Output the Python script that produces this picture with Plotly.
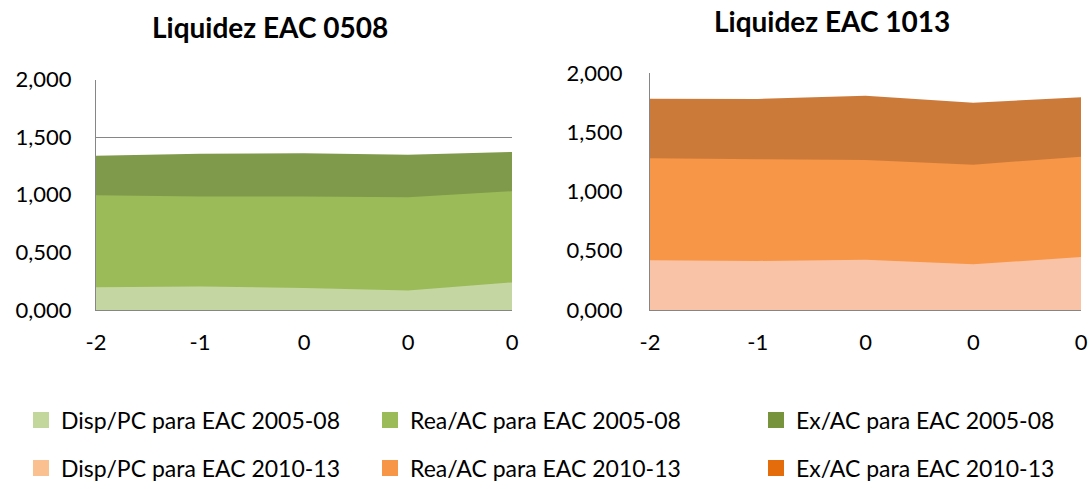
import plotly.graph_objects as go

W, H = 1091, 489

x_labels = ["-2", "-1", "0", "0", "0"]

# EAC 2005-08 (left chart)
disp_0508 = [0.198, 0.204, 0.190, 0.169, 0.239]
rea_0508 = [0.996, 0.984, 0.984, 0.978, 1.031]
ex_0508 = [1.339, 1.356, 1.360, 1.348, 1.371]

# EAC 2010-13 (right chart)
disp_1013 = [0.419, 0.414, 0.425, 0.386, 0.447]
rea_1013 = [1.280, 1.272, 1.266, 1.226, 1.294]
ex_1013 = [1.783, 1.781, 1.809, 1.750, 1.795]

y_ticks = [0, 0.5, 1.0, 1.5, 2.0]

names_0508 = ["Disp/PC para EAC 2005-08", "Rea/AC para EAC 2005-08", "Ex/AC para EAC 2005-08"]
names_1013 = ["Disp/PC para EAC 2010-13", "Rea/AC para EAC 2010-13", "Ex/AC para EAC 2010-13"]

area_green = ["#C4D7A2", "#9BBB59", "#7F9A4A"]
legend_green = ["#C3D69B", "#9BBB59", "#77933C"]
area_orange = ["#F9C3A8", "#F79646", "#CC7A3A"]
legend_orange = ["#FAC090", "#F79646", "#E46C0A"]

FONT = "Lato"
xpos = list(range(len(x_labels)))


def px(v):
    return v / W


def py(v):
    return 1 - v / H


fig = go.Figure()

# areas: drawn back to front (Ex, Rea, Disp)
for series, col, xa, ya in [
    (ex_0508, area_green[2], "x", "y"),
    (rea_0508, area_green[1], "x", "y"),
    (disp_0508, area_green[0], "x", "y"),
    (ex_1013, area_orange[2], "x2", "y2"),
    (rea_1013, area_orange[1], "x2", "y2"),
    (disp_1013, area_orange[0], "x2", "y2"),
]:
    fig.add_trace(go.Scatter(
        x=xpos, y=series, mode="none", fill="tozeroy", fillcolor=col,
        showlegend=False, xaxis=xa, yaxis=ya, hoverinfo="skip"))

# legend entries
text_starts = [60, 409, 795]
row_y = [420, 468]
legend_layout = {}
k = 0
for r, (names, cols) in enumerate([(names_0508, legend_green), (names_1013, legend_orange)]):
    for c in range(3):
        k += 1
        lname = "legend" if k == 1 else f"legend{k}"
        fig.add_trace(go.Scatter(
            x=[None], y=[None], mode="markers", name=names[c],
            marker=dict(symbol="square", size=16, color=cols[c]),
            legend=lname, showlegend=True))
        legend_layout[lname] = dict(
            x=px(text_starts[c] - 39), y=py(row_y[r]),
            xanchor="left", yanchor="middle", orientation="h",
            bgcolor="rgba(0,0,0,0)", borderwidth=0,
            font=dict(family=FONT, size=23, color="#000000"),
            itemclick=False, itemdoubleclick=False)

axis_common = dict(
    showline=True, linecolor="#868686", linewidth=1,
    tickfont=dict(family=FONT, size=22, color="#000000"),
)

fig.update_layout(
    width=W, height=H,
    margin=dict(l=0, r=0, t=0, b=0, autoexpand=False),
    paper_bgcolor="white", plot_bgcolor="white",
    separators=",.",
    showlegend=True,
    xaxis=dict(domain=[px(96), px(512)], range=[0, 4], tickvals=xpos, ticktext=x_labels,
               showgrid=False, ticks="", ticklabelstandoff=13, anchor="y", **axis_common),
    yaxis=dict(domain=[py(310), py(79.5)], range=[0, 2], tickvals=y_ticks,
               tickformat=".3f", showgrid=True, gridcolor="#868686", gridwidth=1,
               ticks="", ticklabelstandoff=19, zeroline=False, anchor="x", **axis_common),
    xaxis2=dict(domain=[px(650), px(1081)], range=[0, 4], tickvals=xpos, ticktext=x_labels,
                showgrid=False, ticks="", ticklabelstandoff=13, anchor="y2", **axis_common),
    yaxis2=dict(domain=[py(310), py(73)], range=[0, 2], tickvals=y_ticks,
                tickformat=".3f", showgrid=True, gridcolor="#868686", gridwidth=1,
                ticks="", ticklabelstandoff=22, zeroline=False, anchor="x2", **axis_common),
    annotations=[
        dict(text="<b>Liquidez EAC 0508</b>", x=px(270), y=py(27), xref="paper", yref="paper",
             xanchor="center", yanchor="middle", showarrow=False,
             font=dict(family=FONT, size=28, color="#000000")),
        dict(text="<b>Liquidez EAC 1013</b>", x=px(832), y=py(21), xref="paper", yref="paper",
             xanchor="center", yanchor="middle", showarrow=False,
             font=dict(family=FONT, size=28, color="#000000")),
    ],
    **legend_layout,
)

fig.write_html("out.html", config={"displayModeBar": False},
               post_script="document.body.style.margin='0';")
